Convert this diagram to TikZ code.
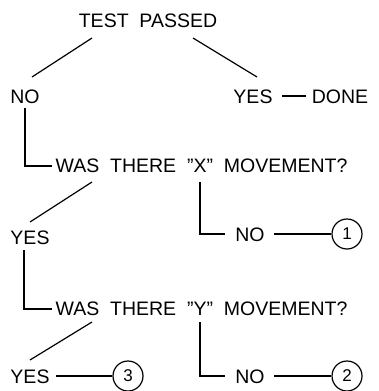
\documentclass[tikz,border=0pt]{standalone}
\usepackage{fontspec}
\setmainfont[WordSpace=2]{Liberation Sans}
\usepackage{tikz}
\usetikzlibrary{calc}

\begin{document}
\begin{tikzpicture}[x=1pt,y=-1pt,line width=1.2pt,
	lbl/.style={inner sep=0pt, text height=14pt, text depth=0pt, font=\fontsize{19.5}{22}\selectfont},
	num/.style={circle,draw,minimum size=30pt,inner sep=0pt, font=\fontsize{17}{20}\selectfont}]
	\useasboundingbox (0,0) rectangle (378,391);
	\node[lbl] at (148,20) (test) {TEST PASSED};
	\node[lbl] at (25,96) (no1) {NO};
	\node[lbl] at (253,96) (yes1) {YES};
	\node[lbl] at (340,96) (done) {DONE};
	\node[lbl,anchor=west] at (55,165) (qx) {WAS THERE "X" MOVEMENT?};
	\node[lbl] at (30,237) (yes2) {YES};
	\node[lbl] at (250,234) (no2) {NO};
	\node[num] at (347,234) (c1) {1};
	\node[lbl,anchor=west] at (55,308) (qy) {WAS THERE "Y" MOVEMENT?};
	\node[lbl] at (30,376) (yes3) {YES};
	\node[num] at (128,376) (c3) {3};
	\node[lbl] at (250,376) (no3) {NO};
	\node[num] at (347,376) (c2) {2};
	\draw ($(test)+(-56,18)$) -- ($(no1)+(7,-19)$);
	\draw ($(test)+(45,18)$) -- ($(yes1)+(4,-19)$);
	\draw ($(yes1.east)+(9,0)$) -- ($(done.west)+(-5,0)$);
	\draw ($(no1)+(0,12)$) |- ($(qx.west)+(-3,1)$);
	\draw ($(qx.west)+(37,17)$) -- ($(yes2)+(0,-15)$);
	\draw ($(qx.west)+(145,17)$) |- ($(no2.west)+(-10,0)$);
	\draw ($(no2.east)+(9,0)$) -- (c1.west);
	\draw ($(yes2)+(-6,13)$) |- ($(qy.west)+(-3,1)$);
	\draw ($(qy.west)+(37,14)$) -- ($(yes3)+(0,-16)$);
	\draw ($(qy.west)+(145,14)$) |- ($(no3.west)+(-10,0)$);
	\draw ($(yes3.east)+(6,0)$) -- (c3.west);
	\draw ($(no3.east)+(9,0)$) -- (c2.west);
\end{tikzpicture}
\end{document}
